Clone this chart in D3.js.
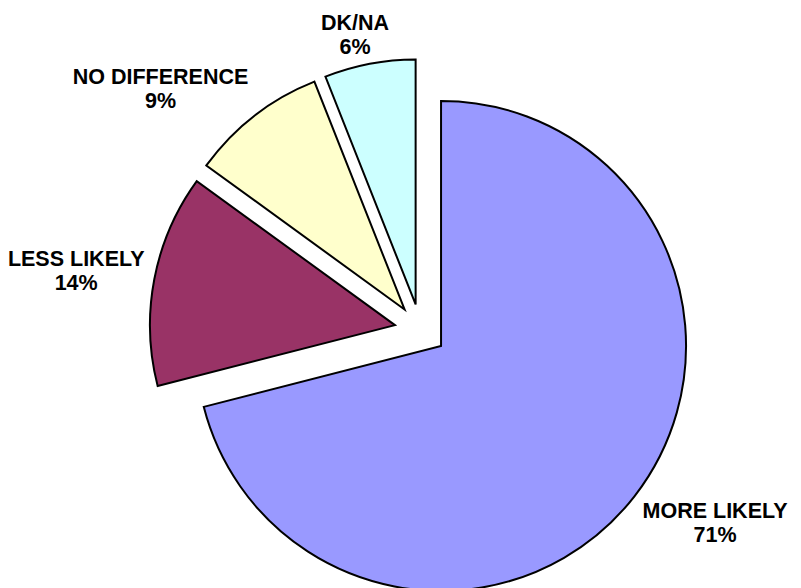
<!DOCTYPE html>
<html>
<head>
<meta charset="utf-8">
<script src="https://cdn.jsdelivr.net/npm/d3@7"></script>
<style>
  html, body { margin: 0; padding: 0; background: #fff; }
  svg { display: block; }
</style>
</head>
<body>
<svg id="chart" width="801" height="588"></svg>
<script>
// ---- data ----
const categories = ["MORE LIKELY", "LESS LIKELY", "NO DIFFERENCE", "DK/NA"];
const values = [71, 14, 9, 6];
const percentLabels = ["71%", "14%", "9%", "6%"];
const colors = ["#9999FF", "#993366", "#FFFFCC", "#CCFFFF"];

// ---- layout ----
const cx = 420.5, cy = 330;
const radius = 245;
const explode = 26;
const labelGap = 10;
const fontSize = 21.5;
const lineStep = 24;

const svg = d3.select("#chart");

const data = categories.map((c, i) => ({ name: c, value: values[i], pct: percentLabels[i], color: colors[i] }));

const pie = d3.pie().value(d => d.value).sort(null).startAngle(0).endAngle(2 * Math.PI);
const arcs = pie(data);
const arc = d3.arc().innerRadius(0).outerRadius(radius);

const g = svg.append("g").attr("transform", `translate(${cx},${cy})`);

function dirOf(a) {
  const mid = (a.startAngle + a.endAngle) / 2;
  return [Math.sin(mid), -Math.cos(mid)];
}

g.selectAll("path.slice")
  .data(arcs)
  .join("path")
  .attr("class", "slice")
  .attr("d", arc)
  .attr("transform", d => { const [dx, dy] = dirOf(d); return `translate(${dx * explode},${dy * explode})`; })
  .attr("fill", d => d.data.color)
  .attr("stroke", "#000")
  .attr("stroke-width", 2)
  .attr("stroke-linejoin", "miter");

// ---- labels (outside end) ----
const clamp = v => Math.max(-1, Math.min(1, v));
const labels = g.selectAll("text.lbl")
  .data(arcs)
  .join("text")
  .attr("class", "lbl")
  .attr("text-anchor", "middle")
  .attr("font-family", "Arial, 'Liberation Sans', sans-serif")
  .attr("font-weight", "bold")
  .attr("font-size", fontSize)
  .attr("fill", "#000");

labels.each(function(d) {
  const t = d3.select(this);
  const t1 = t.append("tspan").text(d.data.name);
  const t2 = t.append("tspan").text(d.data.pct);
  const w = Math.max(t1.node().getComputedTextLength(), t2.node().getComputedTextLength());
  const h = 40;
  const [dx, dy] = dirOf(d);
  const rr = radius + explode + labelGap;
  const px = dx * rr + clamp(dx * 2) * w / 2;
  const py = dy * rr + clamp(dy * 2) * h / 2;
  const capH = 0.716 * fontSize;
  // block spans from cap top of line 1 to baseline of line 2; centred at py
  const b1 = py - (lineStep + capH) / 2 + capH;
  t1.attr("x", px).attr("y", b1);
  t2.attr("x", px).attr("y", b1 + lineStep);
});
</script>
</body>
</html>
